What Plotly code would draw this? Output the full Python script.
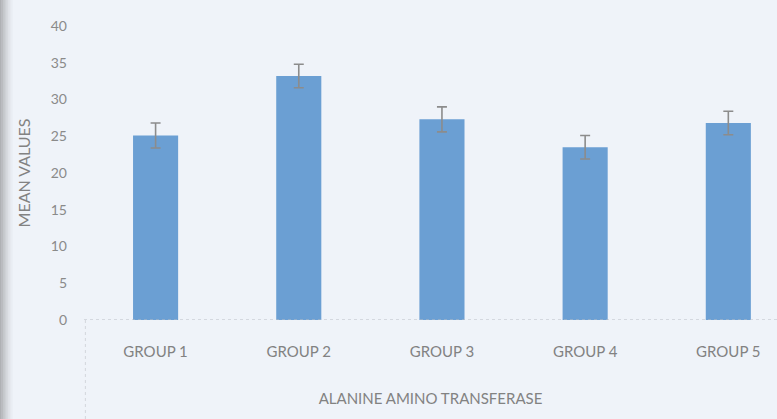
import plotly.graph_objects as go

# Mean values per group with their error (±)
groups = ["GROUP 1", "GROUP 2", "GROUP 3", "GROUP 4", "GROUP 5"]
mean_values = [25.1, 33.2, 27.3, 23.5, 26.8]
errors = [1.7, 1.6, 1.7, 1.6, 1.6]
y_ticks = [0, 5, 10, 15, 20, 25, 30, 35, 40]

BG = "#eff3f9"
BAR = "#6b9fd3"
TEXT = "#828282"
FONT = "Lato, 'Open Sans', sans-serif"

fig = go.Figure(
    go.Bar(
        x=list(range(len(groups))),
        y=mean_values,
        width=0.315,
        marker=dict(color=BAR, line=dict(width=0)),
        error_y=dict(type="data", array=errors, visible=True,
                     color="#8c8c8c", thickness=1.6, width=5),
    )
)

W, H = 777, 419
L, R, T, B = 84, 0, 26, 99
ph = H - T - B

shapes = [
    # faint dotted baseline along zero
    dict(type="line", xref="paper", yref="y", x0=0, x1=1, y0=0, y1=0,
         line=dict(color="#b8bcc4", width=1, dash="dot")),
    # frame edge below the plot area
    dict(type="line", xref="paper", yref="paper", x0=0.002, x1=0.002,
         y0=0, y1=-B / ph, line=dict(color="#d3d6dc", width=1, dash="dot")),
]
# darker edge at the far left of the page
for i, op in enumerate([0.5, 0.42, 0.34, 0.26, 0.19, 0.12, 0.07, 0.03]):
    x0 = -(L - i * 1.6) / (W - L - R)
    x1 = -(L - (i + 1) * 1.6) / (W - L - R)
    shapes.append(dict(type="rect", xref="paper", yref="paper",
                       x0=x0, x1=x1, y0=-B / ph, y1=1 + T / ph,
                       fillcolor="#6f6f6f", opacity=op, line=dict(width=0),
                       layer="below"))

fig.update_layout(
    width=W, height=H,
    margin=dict(l=L, r=R, t=T, b=B),
    paper_bgcolor=BG, plot_bgcolor=BG,
    showlegend=False,
    font=dict(family=FONT, color=TEXT, size=13),
    shapes=shapes,
    xaxis=dict(
        range=[-0.5, 4.34],
        tickmode="array", tickvals=list(range(len(groups))), ticktext=groups,
        showgrid=False, zeroline=False, showline=False, ticks="",
        tickfont=dict(size=15, color=TEXT), ticklabelstandoff=21,
        title=dict(text="ALANINE AMINO TRANSFERASE", standoff=34,
                   font=dict(size=15, color=TEXT)),
    ),
    yaxis=dict(
        range=[0, 40], tickmode="array", tickvals=y_ticks,
        showgrid=False, zeroline=False, showline=False, ticks="",
        tickfont=dict(size=14, color="#8a8a8a"), ticklabelstandoff=16,
        title=dict(text="MEAN VALUES", standoff=16,
                   font=dict(size=16, color=TEXT)),
    ),
)

fig.write_html("out.html")
